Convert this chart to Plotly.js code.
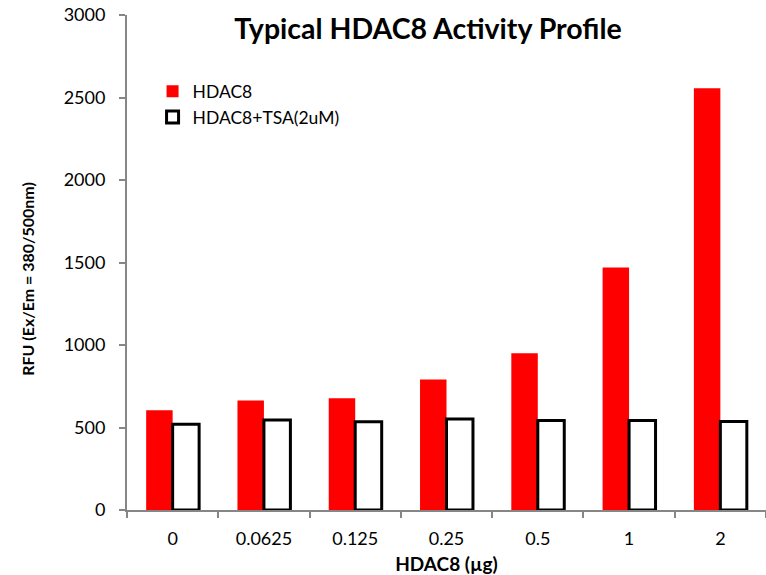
<!DOCTYPE html>
<html>
<head>
<meta charset="utf-8">
<script src="https://cdn.plot.ly/plotly-3.0.1.min.js"></script>
<style>html,body{margin:0;padding:0;background:#fff;}#chart{width:766px;height:575px;}</style>
</head>
<body>
<div id="chart"></div>
<script>
const categories = ["0", "0.0625", "0.125", "0.25", "0.5", "1", "2"];
const hdac8 = [605, 664, 678, 791, 950, 1470, 2556];
const hdac8Tsa = [520, 545, 535, 552, 542, 542, 537];
const seriesNames = ["HDAC8", "HDAC8+TSA(2uM)"];
const yTicks = [0, 500, 1000, 1500, 2000, 2500, 3000];

const FONT = "Lato, 'Open Sans', sans-serif";
const AXIS_GREY = "#868686";

const traces = [
  {
    type: "bar",
    name: seriesNames[0],
    x: categories,
    y: hdac8,
    marker: {color: "#FF0000", line: {width: 0}}
  },
  {
    type: "bar",
    name: seriesNames[1],
    x: categories,
    y: hdac8Tsa,
    marker: {color: "#FFFFFF", line: {color: "#000000", width: 3}}
  }
];

const layout = {
  width: 766,
  height: 575,
  margin: {l: 127, r: 0, t: 15, b: 65},
  paper_bgcolor: "#ffffff",
  plot_bgcolor: "#ffffff",
  font: {family: FONT, size: 18, color: "#000000"},
  barmode: "group",
  bargap: 0.42,
  bargroupgap: 0,
  showlegend: true,
  legend: {
    x: 0.04, y: 0.882, xanchor: "left", yanchor: "top",
    bgcolor: "rgba(0,0,0,0)", borderwidth: 0,
    font: {family: FONT, size: 17.5, color: "#000000"},
    tracegroupgap: 0, itemwidth: 30
  },
  title: {
    text: "<b>Typical HDAC8 Activity Profile</b>",
    font: {family: FONT, size: 28.5, color: "#000000"},
    xref: "paper", yref: "paper",
    x: 0.471, y: 0.972, xanchor: "center", yanchor: "middle"
  },
  xaxis: {
    type: "category",
    showline: true, linecolor: AXIS_GREY, linewidth: 2,
    ticks: "outside", tickson: "boundaries", ticklen: 6, tickcolor: AXIS_GREY, tickwidth: 2,
    showgrid: false, zeroline: false,
    tickfont: {family: FONT, size: 18, color: "#000000"},
    ticklabelstandoff: 11,
    title: {text: "<b>HDAC8 (µg)</b>", font: {family: FONT, size: 19, color: "#000000"}, standoff: 10}
  },
  yaxis: {
    range: [0, 3000],
    tickvals: yTicks,
    ticktext: yTicks.map(String),
    showline: true, linecolor: AXIS_GREY, linewidth: 2,
    ticks: "outside", ticklen: 6, tickcolor: AXIS_GREY, tickwidth: 2,
    showgrid: false, zeroline: false,
    tickfont: {family: FONT, size: 18, color: "#000000"},
    ticklabelstandoff: 10
  },
  annotations: [
    {
      text: "<b>RFU (Ex/Em = 380/500nm)</b>",
      xref: "paper", yref: "paper",
      x: -0.155, y: 0.467, xanchor: "center", yanchor: "middle",
      textangle: -90, showarrow: false,
      font: {family: FONT, size: 16, color: "#000000"}
    }
  ]
};

Plotly.newPlot("chart", traces, layout, {displayModeBar: false, staticPlot: true});
</script>
</body>
</html>
